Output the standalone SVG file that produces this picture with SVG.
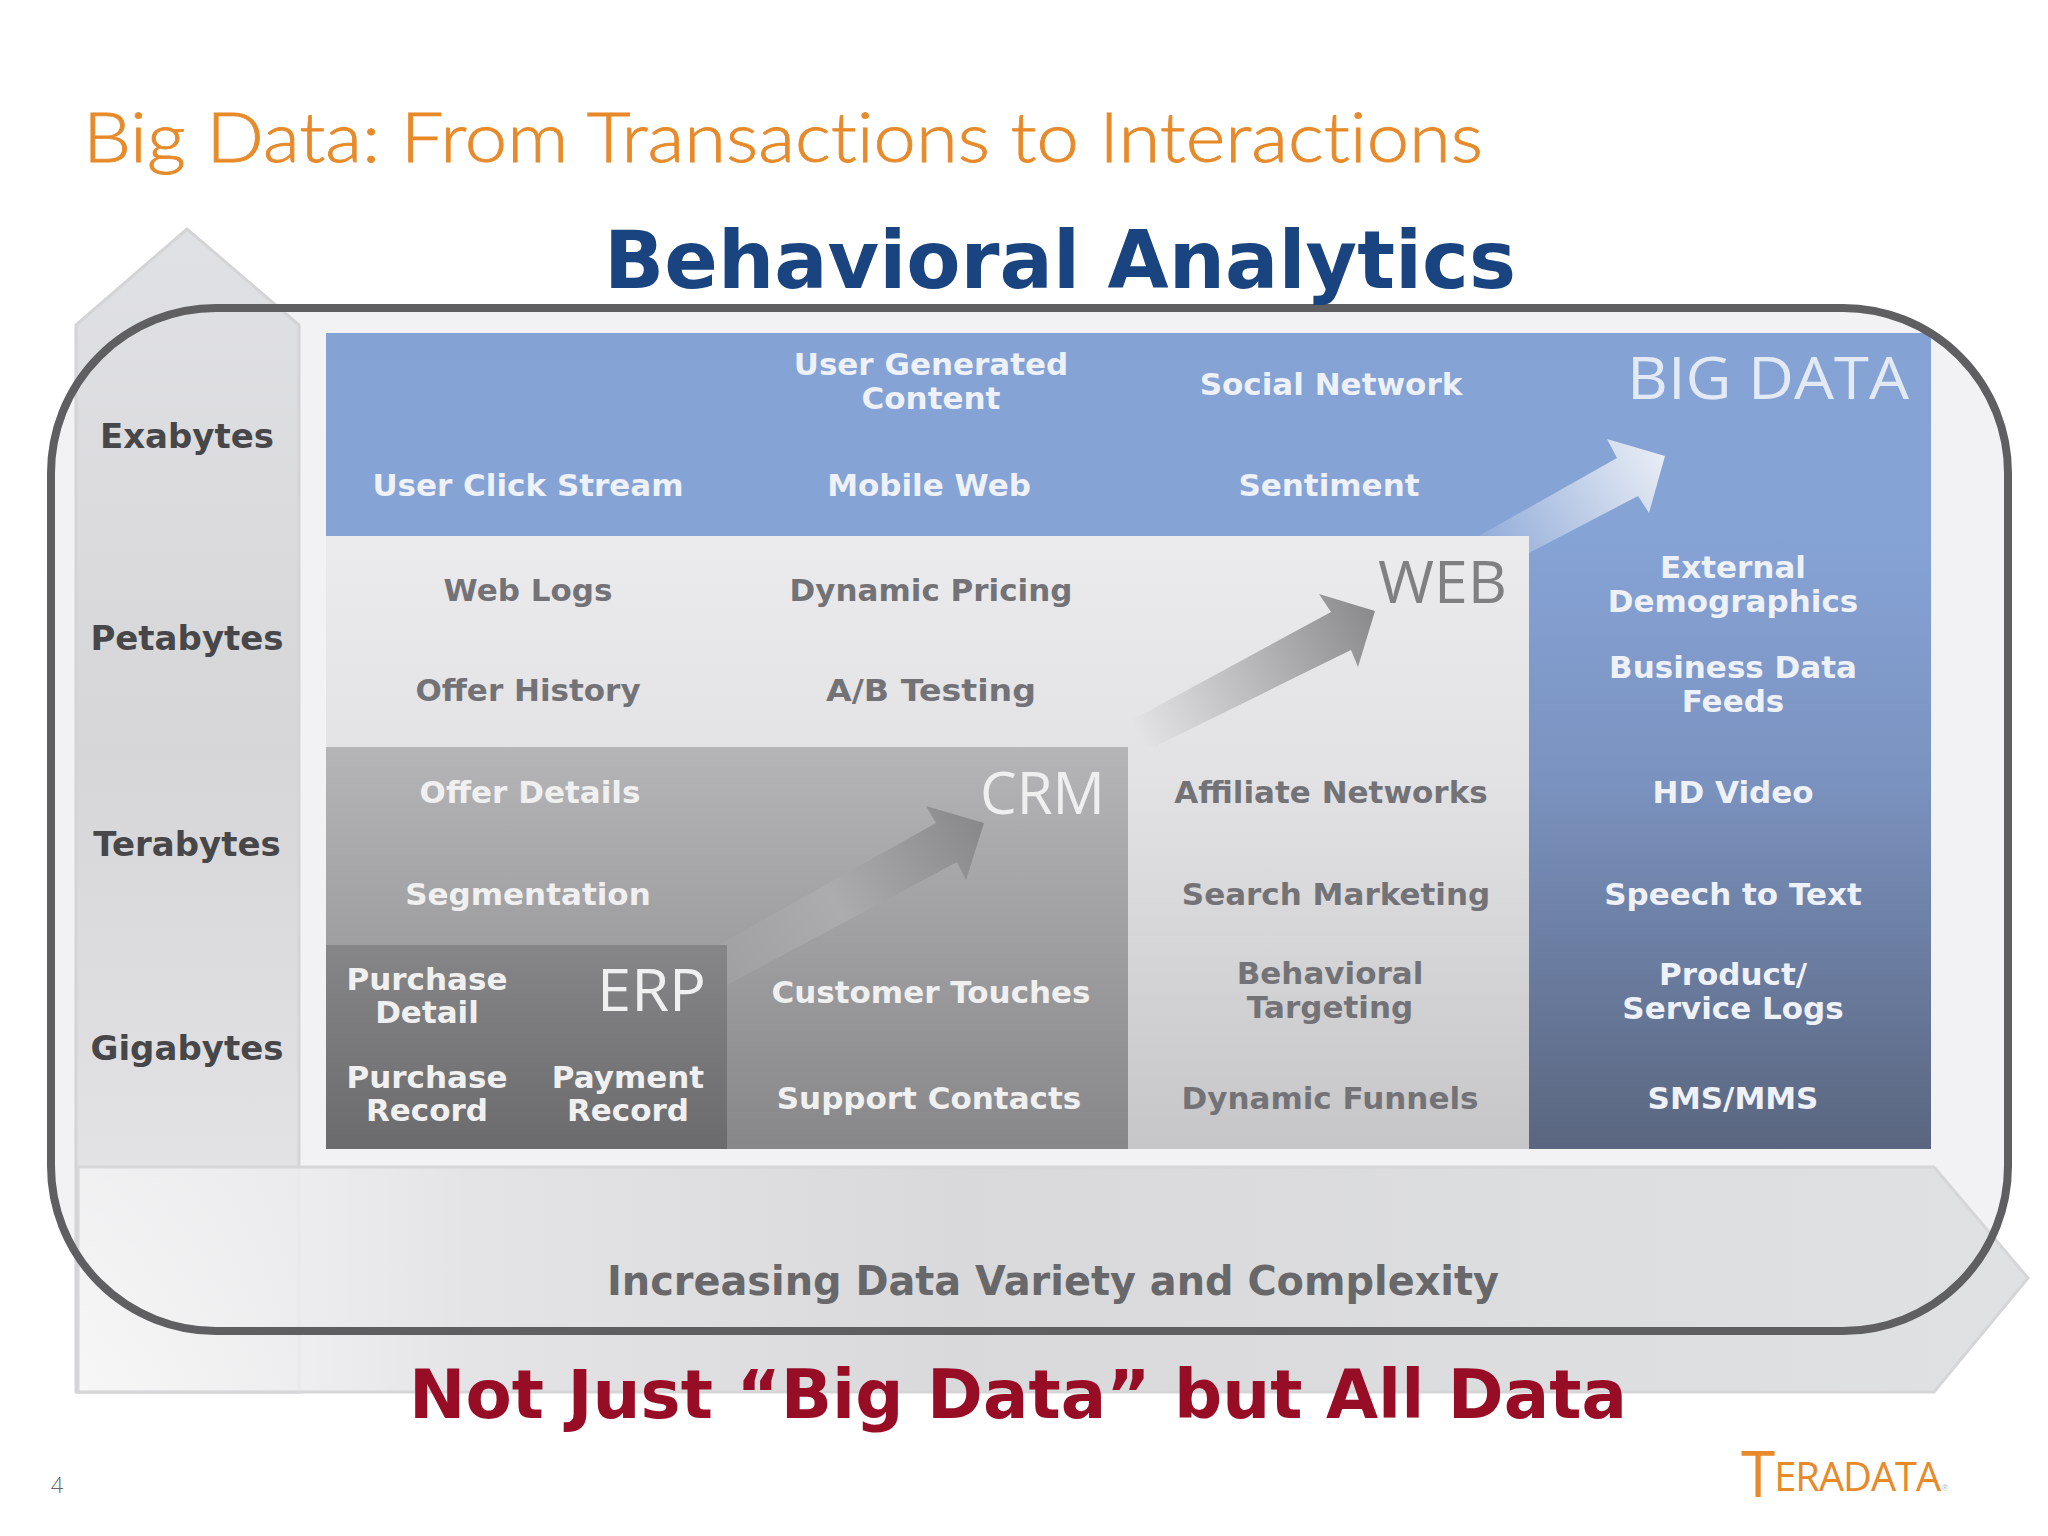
<svg xmlns="http://www.w3.org/2000/svg" width="2048" height="1536" viewBox="0 0 2048 1536">
<style>
text{font-family:"DejaVu Sans","Liberation Sans",sans-serif;font-weight:700;font-size:31px;text-anchor:middle}
.lt{fill:#eef1f8}
.wh{fill:#f0f0f1}
.dk{fill:#737377}
.ax{fill:#47474a;font-size:34px}
.thin{font-family:"Open Sans","Noto Sans",sans-serif;font-weight:400;font-size:58px;text-anchor:start}
</style>
<defs>
<linearGradient id="gBlue" x1="0" y1="333" x2="0" y2="1149" gradientUnits="userSpaceOnUse"><stop offset="0" stop-color="#84a3d4"/><stop offset=".25" stop-color="#86a3d6"/><stop offset=".55" stop-color="#7a92bf"/><stop offset="1" stop-color="#5a667f"/></linearGradient>
<linearGradient id="gWeb" x1="0" y1="536" x2="0" y2="1149" gradientUnits="userSpaceOnUse"><stop offset="0" stop-color="#ebebee"/><stop offset=".4" stop-color="#e2e2e4"/><stop offset="1" stop-color="#c6c6c8"/></linearGradient>
<linearGradient id="gCrm" x1="0" y1="747" x2="0" y2="1149" gradientUnits="userSpaceOnUse"><stop offset="0" stop-color="#b5b5b7"/><stop offset="1" stop-color="#878789"/></linearGradient>
<linearGradient id="gErp" x1="0" y1="945" x2="0" y2="1149" gradientUnits="userSpaceOnUse"><stop offset="0" stop-color="#868688"/><stop offset="1" stop-color="#6b6b6d"/></linearGradient>
<linearGradient id="gUp" x1="0" y1="228" x2="0" y2="1393" gradientUnits="userSpaceOnUse"><stop offset="0" stop-color="#e0e1e4"/><stop offset=".45" stop-color="#d6d6d8"/><stop offset=".8" stop-color="#e2e2e4"/><stop offset="1" stop-color="#f8f8f8"/></linearGradient>
<linearGradient id="gRight" x1="77" y1="0" x2="2028" y2="0" gradientUnits="userSpaceOnUse"><stop offset="0" stop-color="#f6f6f7" stop-opacity=".7"/><stop offset=".2" stop-color="#e4e4e6"/><stop offset=".45" stop-color="#d9d9db"/><stop offset="1" stop-color="#dfe1e2"/></linearGradient>
<linearGradient id="aBig" x1="1465" y1="570" x2="1660" y2="450" gradientUnits="userSpaceOnUse"><stop offset="0" stop-color="#e8edf5" stop-opacity="0"/><stop offset="1" stop-color="#e8edf5"/></linearGradient>
<linearGradient id="aWeb" x1="1140" y1="740" x2="1370" y2="610" gradientUnits="userSpaceOnUse"><stop offset="0" stop-color="#8b8b8d" stop-opacity="0"/><stop offset="1" stop-color="#8b8b8d"/></linearGradient>
<linearGradient id="aCrm" x1="720" y1="970" x2="980" y2="825" gradientUnits="userSpaceOnUse"><stop offset="0" stop-color="#a0a0a2"/><stop offset=".45" stop-color="#acacae"/><stop offset="1" stop-color="#89898b"/></linearGradient>
</defs>
<rect width="2048" height="1536" fill="#fff"/>
<rect id="frame-fill" x="51" y="308" width="1957" height="1023" rx="165" ry="165" fill="#f2f2f4"/>
<g id="axis-arrows">
<path id="arrow-volume" d="M76 325L187 229L299 325V1392H76Z" fill="url(#gUp)" stroke="#d4d4d6" stroke-width="3"/>
<path id="arrow-variety" d="M78 1167H1934L2028 1278L1934 1392H78Z" fill="url(#gRight)" stroke="#d6d6d8" stroke-width="3"/>
</g>
<g id="big-data"><rect x="326" y="333" width="1605" height="816" fill="url(#gBlue)"/></g>
<g id="connectors">
<path d="M1477 537L1617 458L1607 439L1665 456L1649 513L1638 496L1529 553V537Z" fill="url(#aBig)"/>
</g>
<g id="web"><rect x="326" y="536" width="1203" height="613" fill="url(#gWeb)"/></g>
<g id="connectors-web">
<path d="M1132 720L1331 612L1319 594L1375 611L1358 667L1351 650L1158 745V747H1128Z" fill="url(#aWeb)"/>
</g>
<g id="crm"><rect x="326" y="747" width="802" height="402" fill="url(#gCrm)"/></g>
<g id="connectors-crm">
<path d="M718 945L936 823L926 806L984 823L966 880L957 862L727 985Z" fill="url(#aCrm)"/>
</g>
<g id="erp"><rect x="326" y="945" width="401" height="204" fill="url(#gErp)"/></g>
<rect id="frame-line" x="51" y="308" width="1957" height="1023" rx="165" ry="165" fill="none" stroke="#5f5f62" stroke-width="8"/>

<text x="83" y="162" style="font-family:'Lato','Open Sans',sans-serif;font-weight:300;font-size:68px;text-anchor:start;font-variant-ligatures:none;stroke:#e78a2a;stroke-width:.8px" fill="#e78a2a" textLength="1400" lengthAdjust="spacingAndGlyphs">Big Data: From Transactions to Interactions</text>
<text x="1060" y="288" style="font-size:80px" fill="#1a447f" textLength="912" lengthAdjust="spacingAndGlyphs">Behavioral Analytics</text>

<g id="axis-labels">
<text class="ax" x="187" y="448">Exabytes</text>
<text class="ax" x="187" y="650">Petabytes</text>
<text class="ax" x="187" y="856">Terabytes</text>
<text class="ax" x="187" y="1060">Gigabytes</text>
</g>

<g id="big-data-labels">
<text class="thin" x="1627" y="399" fill="#e4eaf5" textLength="282" lengthAdjust="spacingAndGlyphs">BIG DATA</text>
<text class="lt" x="931" y="375">User Generated</text><text class="lt" x="931" y="409">Content</text>
<text class="lt" x="1331" y="395">Social Network</text>
<text class="lt" x="528" y="496">User Click Stream</text>
<text class="lt" x="929" y="496">Mobile Web</text>
<text class="lt" x="1329" y="496">Sentiment</text>
<text class="lt" x="1733" y="578">External</text><text class="lt" x="1733" y="612">Demographics</text>
<text class="lt" x="1733" y="678">Business Data</text><text class="lt" x="1733" y="712">Feeds</text>
<text class="lt" x="1733" y="803">HD Video</text>
<text class="lt" x="1733" y="905">Speech to Text</text>
<text class="lt" x="1733" y="985">Product/</text><text class="lt" x="1733" y="1019">Service Logs</text>
<text class="lt" x="1733" y="1109">SMS/MMS</text>
</g>
<g id="web-labels">
<text class="thin" x="1378" y="603" fill="#808083" textLength="129" lengthAdjust="spacingAndGlyphs">WEB</text>
<text class="dk" x="528" y="601">Web Logs</text>
<text class="dk" x="931" y="601">Dynamic Pricing</text>
<text class="dk" x="528" y="701">Offer History</text>
<text class="dk" x="931" y="701" textLength="210" lengthAdjust="spacingAndGlyphs">A/B Testing</text>
<text class="dk" x="1331" y="803">Affiliate Networks</text>
<text class="dk" x="1336" y="905">Search Marketing</text>
<text class="dk" x="1330" y="984">Behavioral</text><text class="dk" x="1330" y="1018">Targeting</text>
<text class="dk" x="1330" y="1109">Dynamic Funnels</text>
</g>
<g id="crm-labels">
<text class="thin" x="980" y="814" fill="#efefef" textLength="125" lengthAdjust="spacingAndGlyphs">CRM</text>
<text class="wh" x="530" y="803">Offer Details</text>
<text class="wh" x="528" y="905">Segmentation</text>
<text class="wh" x="931" y="1003">Customer Touches</text>
<text class="wh" x="929" y="1109">Support Contacts</text>
</g>
<g id="erp-labels">
<text class="thin" x="597" y="1011" fill="#f0f0f0" textLength="109" lengthAdjust="spacingAndGlyphs">ERP</text>
<text class="wh" x="427" y="990">Purchase</text><text class="wh" x="427" y="1023">Detail</text>
<text class="wh" x="427" y="1088">Purchase</text><text class="wh" x="427" y="1121">Record</text>
<text class="wh" x="628" y="1088">Payment</text><text class="wh" x="628" y="1121">Record</text>
</g>

<text x="1053" y="1295" style="font-size:40px" fill="#68686b" textLength="892" lengthAdjust="spacingAndGlyphs">Increasing Data Variety and Complexity</text>
<text x="1018" y="1418" style="font-size:68px" fill="#970d26" textLength="1218" lengthAdjust="spacingAndGlyphs">Not Just “Big Data” but All Data</text>
<text x="57" y="1493" style="font-family:'Open Sans',sans-serif;font-weight:300;font-size:22px" fill="#666">4</text>
<text transform="translate(1741 1491) scale(.97 1)" style="font-family:'Open Sans',sans-serif;font-weight:400;font-size:41px;text-anchor:start;letter-spacing:-1px" fill="#e78a2a"><tspan style="font-size:64px" dy="6">T</tspan><tspan dy="-6">ERADATA</tspan></text>
<text x="1945" y="1491" style="font-family:'Liberation Sans',sans-serif;font-weight:400;font-size:9px" fill="#b9b9b9">®</text>
</svg>
